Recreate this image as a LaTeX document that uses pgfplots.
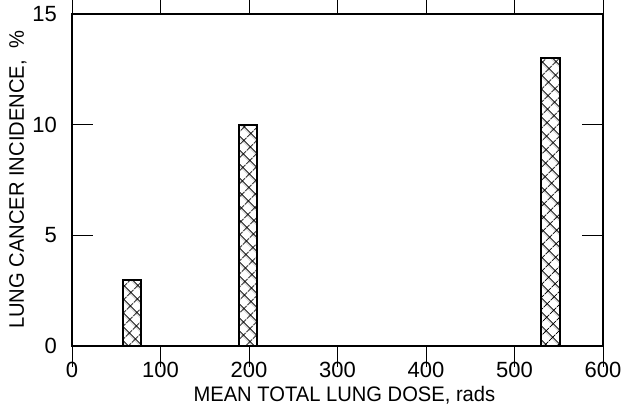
\documentclass[border=0pt]{standalone}
\usepackage{fontspec}
\setmainfont{Liberation Sans}
\newfontfamily\labelfont{Liberation Sans}[FakeStretch=0.96]
\usepackage{pgfplots}
\pgfplotsset{compat=1.18}
\usetikzlibrary{patterns.meta}

% incidence (%) against mean total lung dose (rads)
\pgfplotstableread{
dose incidence
68   3
199  10
541  13
}\incidence

\begin{document}
\begin{tikzpicture}
\begin{axis}[
  scale only axis,
  width=531bp, height=332bp,
  xmin=0, xmax=600, ymin=0, ymax=15,
  xtick={0,100,...,600},
  ytick={0,5,10,15},
  tick align=inside,
  major tick length=21bp,
  every tick/.style={black, line width=0.6bp},
  axis line style={line width=1.1bp},
  /pgf/number format/assume math mode=true,
  tick label style={font=\fontsize{22bp}{24bp}\selectfont, inner sep=0pt},
  xticklabel style={anchor=north, yshift=5bp},
  yticklabel style={anchor=east, xshift=-15bp},
  label style={font=\labelfont\fontsize{21bp}{24bp}\selectfont},
  xlabel={MEAN TOTAL LUNG DOSE, rads},
  ylabel={LUNG CANCER INCIDENCE,\ \ \%},
  xlabel style={at={(axis description cs:0.513,-0.1476)}, anchor=center},
  ylabel style={at={(axis description cs:-0.1017,0.5)}, anchor=center},
  ybar, bar width=21,
]
\coordinate (bl) at (rel axis cs:0,0);
\coordinate (tr) at (rel axis cs:1,1);
\addplot[draw=black, line width=2bp, fill=white,
  postaction={pattern={Hatch[angle=45, distance=9.5bp, line width=0.9bp]}}]
  table[x=dose, y=incidence] {\incidence};
\end{axis}
\pgfresetboundingbox
\path ([shift={(-72bp,-60bp)}]bl) rectangle ([shift={(25bp,14bp)}]tr);
\end{tikzpicture}
\end{document}
